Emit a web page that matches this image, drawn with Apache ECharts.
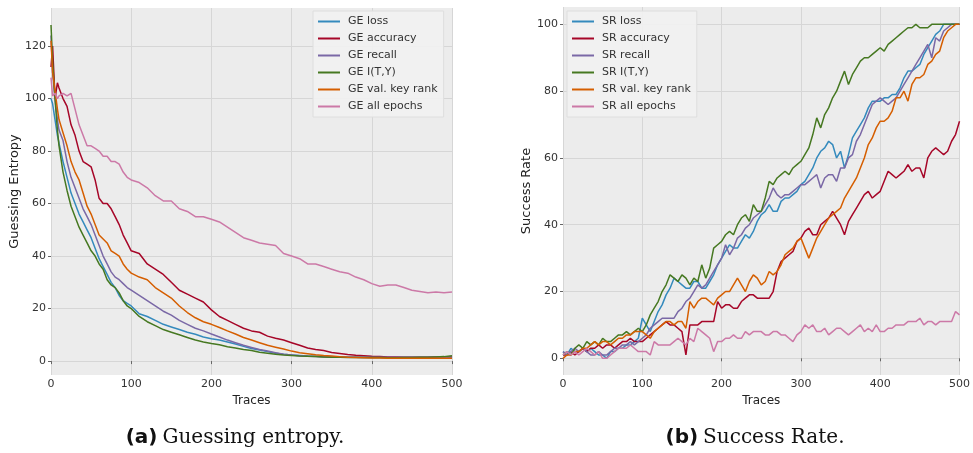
<!DOCTYPE html>
<html>
<head>
<meta charset="utf-8">
<script src="https://cdn.jsdelivr.net/npm/echarts@6/dist/echarts.min.js"></script>
<style>
  html, body { margin: 0; padding: 0; background: #fff; }
  #chart { width: 973px; height: 453px; }
</style>
</head>
<body>
<div id="chart"></div>
<script>
// traces axis for the guessing entropy panel
const geTraces = [0, 2, 5, 8, 10, 15, 20, 25, 30, 35, 40, 45, 50, 55, 60, 65, 70, 75, 80, 85, 90, 95, 100,
  110, 120, 130, 140, 150, 160, 170, 180, 190, 200, 210, 220, 230, 240, 250, 260, 270, 280, 290, 300,
  310, 320, 330, 340, 350, 360, 370, 380, 390, 400, 410, 420, 430, 440, 450, 460, 470, 480, 490, 500]

const geLoss = [100, 98, 92, 86, 83, 76, 70, 64, 60, 56, 53, 50, 47, 43, 39, 36, 33, 30, 28, 25, 23, 22, 21,
  18, 17, 15.5, 14, 13, 12, 11, 10.2, 9.2, 8.5, 8, 7.3, 6.5, 5.6, 4.8, 4.2, 3.6, 3, 2.6, 2.3,
  2.1, 1.9, 1.8, 1.7, 1.6, 1.5, 1.5, 1.5, 1.4, 1.4, 1.4, 1.4, 1.4, 1.4, 1.4, 1.4, 1.4, 1.4, 1.4, 1.4]
const geAccuracy = [112, 120, 100, 106, 104, 100, 97, 90, 86, 80, 76, 75, 74, 69, 62, 60, 60, 58, 55, 52, 48, 45, 42,
  41, 37, 35, 33, 30, 27, 25.5, 24, 22.5, 19.5, 17, 15.5, 14, 12.5, 11.5, 11, 9.5, 8.7, 8, 7,
  6, 5, 4.4, 4, 3.3, 2.9, 2.5, 2.2, 2, 1.8, 1.7, 1.6, 1.6, 1.5, 1.5, 1.5, 1.5, 1.6, 1.6, 1.6]
const geRecall = [124, 110, 100, 92, 88, 84, 76, 70, 66, 62, 58, 55, 52, 48, 44, 40, 37, 34, 32, 31, 29.5, 28, 27,
  25, 23, 21, 19, 17.5, 15.5, 14, 12.5, 11.5, 10.3, 9.2, 8, 7, 6, 5.2, 4.4, 3.8, 3.2, 2.6, 2.3,
  2, 1.8, 1.7, 1.6, 1.5, 1.5, 1.5, 1.5, 1.5, 1.5, 1.5, 1.5, 1.5, 1.5, 1.5, 1.5, 1.5, 1.5, 1.5, 1.5]
const geMI = [128, 114, 100, 88, 82, 72, 65, 59, 55, 51, 48, 45, 42, 40, 37, 35, 31, 29, 28, 26, 23, 21, 20,
  17, 15, 13.5, 12, 11, 10, 9, 8, 7.3, 6.7, 6.2, 5.5, 5, 4.4, 4, 3.4, 3, 2.6, 2.3, 2.1,
  1.9, 1.8, 1.7, 1.6, 1.5, 1.5, 1.4, 1.4, 1.4, 1.4, 1.4, 1.3, 1.3, 1.4, 1.4, 1.5, 1.5, 1.6, 1.7, 2.0]
const geValKeyRank = [122, 110, 103, 96, 92, 87, 82, 76, 72, 69, 64, 59, 56, 52, 48, 46.5, 45, 42, 41, 40, 37, 35, 33.5,
  32, 31, 28, 26, 24, 21, 18.5, 16.5, 15, 14, 12.8, 11.5, 10.3, 9, 8, 7, 6, 5.3, 4.6, 3.8,
  3.2, 2.8, 2.4, 2.1, 1.9, 1.7, 1.5, 1.4, 1.3, 1.2, 1.2, 1.1, 1.1, 1.1, 1.1, 1.1, 1.1, 1.1, 1.1, 1.1]
const geAllEpochs = [108, 101, 102, 100, 101, 102, 101, 102, 96, 90, 86, 82, 82, 81, 80, 78, 78, 76, 76, 75, 72, 70, 69,
  68, 66, 63, 61, 61, 58, 57, 55, 55, 54, 53, 51, 49, 47, 46, 45, 44.5, 44, 41, 40,
  39, 37, 37, 36, 35, 34, 33.5, 32, 31, 29.5, 28.5, 29, 29, 28, 27, 26.5, 26, 26.3, 26, 26.3]

// traces axis for the success rate panel
const srTraces = [0, 5, 10, 15, 20, 25, 30, 35, 40, 45, 50, 55, 60, 65, 70, 75, 80, 85, 90, 95,
  100, 105, 110, 115, 120, 125, 130, 135, 140, 145, 150, 155, 160, 165, 170, 175, 180, 185, 190, 195,
  200, 205, 210, 215, 220, 225, 230, 235, 240, 245, 250, 255, 260, 265, 270, 275, 280, 285, 290, 295,
  300, 305, 310, 315, 320, 325, 330, 335, 340, 345, 350, 355, 360, 365, 370, 375, 380, 385, 390, 395,
  400, 405, 410, 415, 420, 425, 430, 435, 440, 445, 450, 455, 460, 465, 470, 475, 480, 485, 490, 495, 500]

const srLoss = [2, 1, 3, 2, 2, 3, 2, 3, 2, 1, 1, 0, 2, 2, 3, 3, 4, 4, 5, 6,
  12, 10, 8, 11, 14, 16, 19, 21, 24, 23, 22, 21, 21, 23, 23, 21, 21, 23, 25, 28,
  30, 32, 34, 33, 33, 35, 37, 36, 38, 41, 43, 44, 46, 44, 44, 47, 48, 48, 49, 50,
  52, 53, 55, 57, 60, 62, 63, 65, 64, 60, 62, 57, 61, 66, 68, 70, 72, 75, 77, 77,
  77, 78, 78, 79, 79, 81, 84, 86, 86, 87, 88, 91, 93, 95, 97, 98, 100, 100, 100, 100, 100]
const srAccuracy = [1, 1, 2, 1, 2, 3, 2, 3, 3, 4, 3, 4, 4, 3, 4, 5, 5, 6, 5, 5,
  5, 6, 7, 8, 9, 10, 11, 10, 10, 9, 8, 1, 10, 10, 10, 11, 11, 11, 11, 17,
  15, 16, 16, 15, 15, 17, 18, 19, 19, 18, 18, 18, 18, 20, 26, 29, 30, 31, 32, 35,
  36, 38, 39, 37, 37, 40, 41, 42, 44, 42, 40, 37, 41, 43, 45, 47, 49, 50, 48, 49,
  50, 53, 56, 55, 54, 55, 56, 58, 56, 57, 57, 54, 60, 62, 63, 62, 61, 62, 65, 67, 71]
const srRecall = [2, 1, 2, 3, 2, 3, 2, 1, 1, 2, 1, 1, 2, 3, 3, 4, 4, 5, 4, 5,
  6, 7, 9, 10, 11, 12, 12, 12, 12, 14, 15, 17, 18, 20, 22, 21, 22, 24, 26, 28,
  30, 34, 31, 33, 36, 37, 39, 40, 42, 43, 44, 46, 48, 51, 49, 48, 49, 49, 50, 51,
  52, 52, 53, 54, 55, 51, 54, 55, 55, 53, 57, 57, 60, 61, 65, 67, 70, 73, 76, 77,
  78, 77, 76, 77, 78, 80, 82, 84, 86, 88, 90, 92, 94, 90, 96, 95, 98, 99, 100, 100, 100]
const srMI = [1, 2, 1, 3, 4, 3, 5, 4, 5, 4, 6, 5, 5, 6, 7, 7, 8, 7, 8, 9,
  8, 10, 13, 15, 17, 20, 22, 25, 24, 23, 25, 24, 22, 24, 23, 28, 24, 27, 33, 34,
  35, 37, 38, 37, 40, 42, 43, 41, 46, 44, 44, 48, 53, 52, 54, 55, 56, 55, 57, 58,
  59, 61, 63, 67, 72, 69, 73, 75, 78, 80, 83, 86, 82, 85, 87, 89, 90, 90, 91, 92,
  93, 92, 94, 95, 96, 97, 98, 99, 99, 100, 99, 99, 99, 100, 100, 100, 100, 100, 100, 100, 100]
const srValKeyRank = [0, 1, 1, 2, 2, 3, 3, 4, 5, 4, 5, 5, 4, 5, 6, 6, 7, 7, 8, 8,
  8, 7, 6, 8, 9, 10, 11, 11, 10, 11, 11, 9, 17, 15, 17, 18, 18, 17, 16, 18,
  19, 20, 20, 22, 24, 22, 20, 23, 25, 24, 22, 23, 26, 25, 26, 28, 31, 32, 33, 35,
  36, 33, 30, 33, 36, 38, 40, 42, 43, 44, 45, 48, 50, 52, 54, 57, 60, 64, 66, 69,
  71, 71, 72, 74, 78, 78, 80, 77, 82, 84, 84, 85, 88, 89, 91, 92, 96, 98, 99, 100, 100]
const srAllEpochs = [1, 2, 1, 2, 1, 2, 3, 2, 1, 2, 0, 0, 1, 2, 3, 3, 3, 4, 3, 2,
  2, 2, 1, 5, 4, 4, 4, 4, 5, 6, 5, 4, 6, 5, 9, 8, 7, 6, 2, 5,
  5, 6, 6, 7, 6, 6, 8, 7, 8, 8, 8, 7, 7, 8, 8, 7, 7, 6, 5, 7,
  8, 10, 9, 10, 8, 8, 9, 7, 8, 9, 9, 8, 7, 8, 9, 10, 8, 9, 8, 10,
  8, 8, 9, 9, 10, 10, 10, 11, 11, 11, 12, 10, 11, 11, 10, 11, 11, 11, 11, 14, 13]

const colors = ['#348ABD', '#A60628', '#7A68A6', '#467821', '#D55E00', '#CC79A7']
const geNames = ['GE loss', 'GE accuracy', 'GE recall', 'GE I(T,Y)', 'GE val. key rank', 'GE all epochs']
const srNames = ['SR loss', 'SR accuracy', 'SR recall', 'SR I(T,Y)', 'SR val. key rank', 'SR all epochs']
const geData = [geLoss, geAccuracy, geRecall, geMI, geValKeyRank, geAllEpochs]
const srData = [srLoss, srAccuracy, srRecall, srMI, srValKeyRank, srAllEpochs]

const font = 'DejaVu Sans'
const pair = (xs, ys) => xs.map((x, i) => [x, ys[i]])

function xAxisOf (gridIndex) {
  return {
    type: 'value', gridIndex, min: 0, max: 500, interval: 100,
    name: 'Traces', nameLocation: 'middle', nameGap: 15,
    nameTextStyle: { fontFamily: font, fontSize: 12, color: '#222' },
    axisLine: { show: false },
    axisTick: { show: true, length: 3, lineStyle: { color: '#666' } },
    axisLabel: { fontFamily: font, fontSize: 11, color: '#333', margin: 4 },
    splitLine: { show: true, lineStyle: { color: '#d6d6d6', width: 1 } },
  }
}
function yAxisOf (gridIndex, name, min, max, splitNumber) {
  return {
    type: 'value', gridIndex, min, max, splitNumber,
    name, nameLocation: 'middle', nameGap: 30,
    nameTextStyle: { fontFamily: font, fontSize: 13, color: '#222' },
    axisLine: { show: false },
    axisTick: { show: true, length: 3, lineStyle: { color: '#666' } },
    axisLabel: { fontFamily: font, fontSize: 11, color: '#333', margin: 5, showMinLabel: false, showMaxLabel: false },
    splitLine: { show: true, showMinLine: false, showMaxLine: false, lineStyle: { color: '#d6d6d6', width: 1 } },
  }
}
function legendOf (names, left) {
  return {
    data: names, orient: 'vertical', left, top: 11,
    icon: 'rect', itemWidth: 22, itemHeight: 2, itemGap: 6,
    padding: [5, 6, 5, 5],
    backgroundColor: 'rgba(242,242,242,0.9)', borderColor: '#dedede', borderWidth: 1,
    textStyle: { fontFamily: font, fontSize: 11, color: '#333', padding: [0, 0, 0, 3] },
  }
}
function captionOf (tag, text, left) {
  return {
    text: '{a|' + tag + '} {b|' + text + '}', left, top: 423, textAlign: 'center',
    textStyle: { rich: {
      a: { fontFamily: 'DejaVu Sans', fontWeight: 'bold', fontSize: 20, color: '#111' },
      b: { fontFamily: 'DejaVu Serif', fontWeight: 'normal', fontSize: 20, color: '#111' } } },
  }
}

const series = []
geData.forEach((ys, i) => {
  series.push({ name: geNames[i], type: 'line', xAxisIndex: 0, yAxisIndex: 0, data: pair(geTraces, ys),
    showSymbol: false, lineStyle: { width: 1.5, color: colors[i] }, itemStyle: { color: colors[i] } })
})
srData.forEach((ys, i) => {
  series.push({ name: srNames[i], type: 'line', xAxisIndex: 1, yAxisIndex: 1, data: pair(srTraces, ys),
    showSymbol: false, lineStyle: { width: 1.5, color: colors[i] }, itemStyle: { color: colors[i] } })
})

const chart = echarts.init(document.getElementById('chart'))
chart.setOption({
  animation: false,
  grid: [
    { left: 51, right: 521, top: 8, height: 367, show: true, backgroundColor: '#ececec', borderWidth: 0 },
    { left: 563, right: 10, top: 7, height: 368, show: true, backgroundColor: '#ececec', borderWidth: 0 },
  ],
  xAxis: [xAxisOf(0), xAxisOf(1)],
  yAxis: [
    yAxisOf(0, 'Guessing Entropy', -5.3, 134.5, 7),
    yAxisOf(1, 'Success Rate', -5, 105.2, 5),
  ],
  legend: [legendOf(geNames, 313), legendOf(srNames, 567)],
  title: [
    captionOf('(a)', 'Guessing entropy.', 230),
    captionOf('(b)', 'Success Rate.', 750),
  ],
  series,
})
</script>
</body>
</html>
